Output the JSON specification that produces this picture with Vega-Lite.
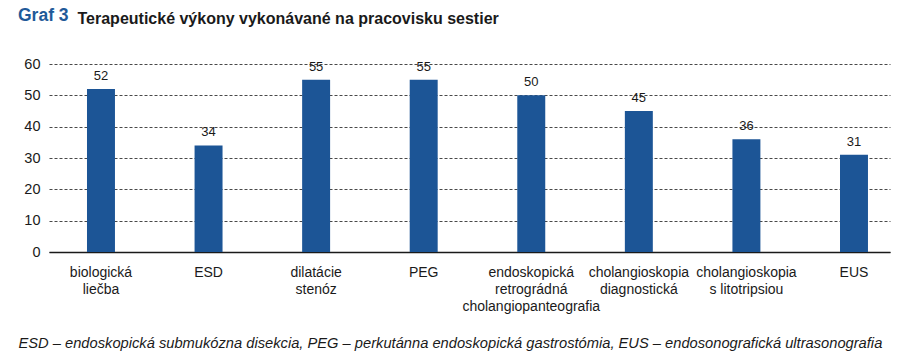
{
  "$schema": "https://vega.github.io/schema/vega-lite/v6.json",
  "autosize": "none",
  "width": 841,
  "height": 188,
  "padding": {"left": 49, "top": 64, "right": 27, "bottom": 106},
  "background": "white",
  "title": {
    "text": "Graf 3",
    "anchor": "start",
    "frame": "group",
    "dx": -31,
    "dy": 15,
    "offset": -13,
    "baseline": "alphabetic",
    "font": "'Liberation Sans', sans-serif",
    "fontSize": 17.5,
    "fontWeight": "bold",
    "color": "#1f5a99"
  },
  "data": {
    "values": [
      {"kategoria": "biologická|liečba", "pocet": 52},
      {"kategoria": "ESD", "pocet": 34},
      {"kategoria": "dilatácie|stenóz", "pocet": 55},
      {"kategoria": "PEG", "pocet": 55},
      {"kategoria": "endoskopická|retrográdná|cholangiopanteografia", "pocet": 50},
      {"kategoria": "cholangioskopia|diagnostická", "pocet": 45},
      {"kategoria": "cholangioskopia|s litotripsiou", "pocet": 36},
      {"kategoria": "EUS", "pocet": 31}
    ]
  },
  "encoding": {
    "x": {
      "field": "kategoria",
      "type": "nominal",
      "sort": null,
      "scale": {"paddingInner": 0.74, "paddingOuter": 0.279, "align": 0.633},
      "axis": {
        "title": "ESD – endoskopická submukózna disekcia, PEG – perkutánna endoskopická gastrostómia, EUS – endosonografická ultrasonografia",
        "titleFont": "'Liberation Sans', sans-serif",
        "titleFontStyle": "italic",
        "titleFontWeight": "normal",
        "titleFontSize": 14.7,
        "titleColor": "#1a1a1a",
        "titleAnchor": null,
        "titleAlign": "left",
        "titleBaseline": "alphabetic",
        "titleX": -31,
        "titleY": 95,
        "labelAngle": 0,
        "labelExpr": "split(datum.label, '|')",
        "labelFont": "'Liberation Sans', sans-serif",
        "labelFontSize": 14,
        "labelColor": "#1a1a1a",
        "labelLineHeight": 17,
        "labelPadding": 13,
        "labelBaseline": "top",
        "ticks": false,
        "domainColor": "#1a1a1a",
        "domainWidth": 1.5
      }
    },
    "y": {
      "field": "pocet",
      "type": "quantitative",
      "scale": {"domain": [0, 60]},
      "axis": {
        "values": [0, 10, 20, 30, 40, 50, 60],
        "title": "Terapeutické výkony vykonávané na pracovisku sestier",
        "titleAngle": 0,
        "titleAlign": "left",
        "titleAnchor": null,
        "titleBaseline": "alphabetic",
        "titleX": 28,
        "titleY": -41,
        "titleFont": "'Liberation Sans', sans-serif",
        "titleFontSize": 16,
        "titleFontWeight": "bold",
        "titleColor": "#1a1a1a",
        "domain": false,
        "ticks": false,
        "labelFont": "'Liberation Sans', sans-serif",
        "labelFontSize": 14.5,
        "labelColor": "#1a1a1a",
        "labelPadding": 9,
        "gridColor": "#1a1a1a",
        "gridDash": [3, 2],
        "gridWidth": 0.8
      }
    }
  },
  "layer": [
    {"mark": {"type": "bar", "color": "#1c5596"}},
    {
      "mark": {
        "type": "text",
        "baseline": "bottom",
        "dy": -6,
        "font": "'Liberation Sans', sans-serif",
        "fontSize": 13,
        "color": "#1a1a1a"
      },
      "encoding": {"text": {"field": "pocet", "type": "quantitative"}}
    }
  ],
  "config": {"view": {"stroke": null}}
}
